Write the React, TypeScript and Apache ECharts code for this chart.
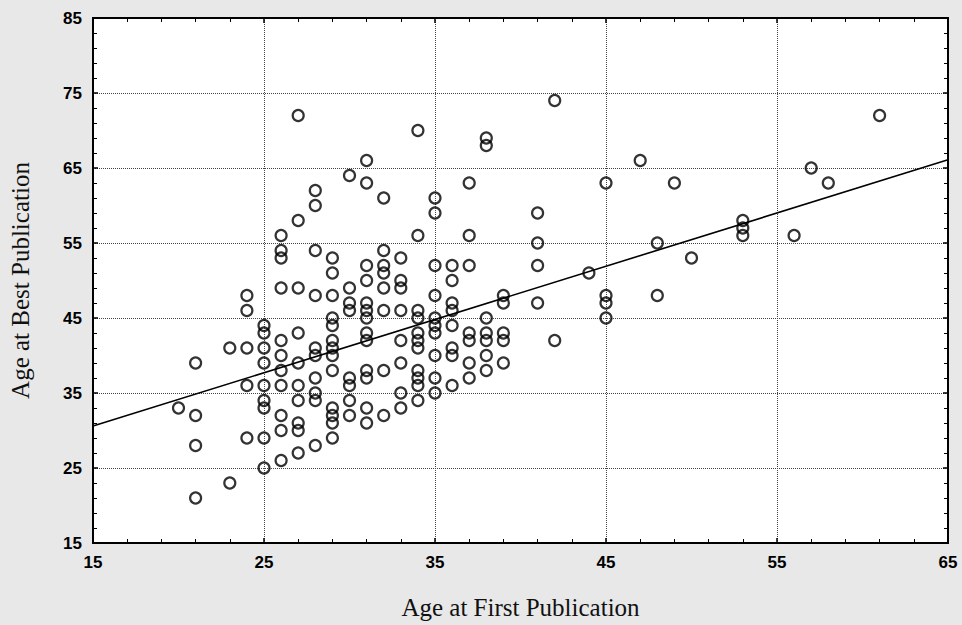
import React, { useEffect, useRef } from "react";
import * as echarts from "echarts";

// Age at first publication (x) and the ages at best publication observed for each (y)
const firstAges = [20, 21, 23, 24, 25, 26, 27, 28, 29, 30, 31, 32, 33, 34, 35, 36, 37, 38, 39, 41, 42, 44, 45, 47, 48, 49, 50, 53, 56, 57, 58, 61];
const bestAgesByFirst = [
  [33],
  [39, 32, 28, 21],
  [41, 23],
  [48, 46, 41, 36, 29],
  [44, 43, 41, 39, 36, 34, 33, 29, 25],
  [56, 54, 53, 49, 42, 40, 38, 36, 32, 30, 26],
  [72, 58, 49, 43, 39, 36, 34, 31, 30, 27],
  [62, 60, 54, 48, 41, 40, 37, 35, 34, 28],
  [53, 51, 48, 45, 44, 42, 41, 40, 38, 33, 32, 31, 29],
  [64, 49, 47, 46, 37, 36, 34, 32],
  [66, 63, 52, 50, 47, 46, 45, 43, 42, 38, 37, 33, 31],
  [61, 54, 52, 51, 49, 46, 38, 32],
  [53, 50, 49, 46, 42, 39, 35, 33],
  [70, 56, 46, 45, 43, 42, 41, 38, 37, 36, 34],
  [61, 59, 52, 48, 45, 44, 43, 40, 37, 35],
  [52, 50, 47, 46, 44, 41, 40, 36],
  [63, 56, 52, 43, 42, 39, 37],
  [69, 68, 45, 43, 42, 40, 38],
  [48, 47, 43, 42, 39],
  [59, 55, 52, 47],
  [74, 42],
  [51],
  [63, 48, 47, 45],
  [66],
  [55, 48],
  [63],
  [53],
  [58, 57, 56],
  [56],
  [65],
  [63],
  [72],
];
// Fitted line endpoints
const trendX = [15, 65];
const trendY = [30.6, 66.1];

const xTicks = { min: 15, max: 65, interval: 10 };
const yTicks = { min: 15, max: 85, interval: 10 };

export default function App() {
  const ref = useRef<HTMLDivElement>(null);

  useEffect(() => {
    if (!ref.current) return;
    const chart = echarts.init(ref.current, undefined, { renderer: "svg" });

    const points: number[][] = [];
    firstAges.forEach((x, i) => {
      bestAgesByFirst[i].forEach((y) => points.push([x, y]));
    });
    const trend = trendX.map((x, i) => [x, trendY[i]]);

    const labelFont = {
      fontFamily: "'Liberation Sans', Arial, sans-serif",
      fontWeight: "bold" as const,
      fontSize: 17,
      color: "#000",
    };
    const nameFont = {
      fontFamily: "'Liberation Serif', 'DejaVu Serif', serif",
      fontSize: 25,
      color: "#111",
    };

    const baseAxis = {
      type: "value" as const,
      axisLine: { show: true, lineStyle: { color: "#000", width: 2 } },
      axisTick: { show: true, inside: true, length: 5, lineStyle: { color: "#000", width: 1.5 } },
      minorTick: { show: true, splitNumber: 5, length: 4, lineStyle: { color: "#000", width: 1 } },
    };

    chart.setOption({
      animation: false,
      backgroundColor: "#e8e8e8",
      grid: {
        left: 93,
        right: 14,
        top: 18,
        bottom: 77,
        show: true,
        backgroundColor: "#ffffff",
        borderColor: "#000",
        borderWidth: 2,
      },
      xAxis: [
        {
          ...baseAxis,
          position: "bottom",
          ...xTicks,
          name: "Age at First Publication",
          nameLocation: "middle",
          nameGap: 52,
          nameTextStyle: nameFont,
          axisLabel: { ...labelFont, margin: 11 },
          splitLine: { show: true, lineStyle: { type: "dotted", color: "#444", width: 1 } },
        },
        {
          ...baseAxis,
          position: "top",
          ...xTicks,
          axisLabel: { show: false },
          splitLine: { show: false },
        },
      ],
      yAxis: [
        {
          ...baseAxis,
          position: "left",
          ...yTicks,
          name: "Age at Best Publication",
          nameLocation: "middle",
          nameGap: 60,
          nameRotate: 90,
          nameTextStyle: nameFont,
          axisLabel: { ...labelFont, margin: 11 },
          splitLine: { show: true, lineStyle: { type: "dotted", color: "#444", width: 1 } },
        },
        {
          ...baseAxis,
          position: "right",
          ...yTicks,
          axisLabel: { show: false },
          splitLine: { show: false },
        },
      ],
      series: [
        {
          type: "scatter",
          data: points,
          symbol: "circle",
          symbolSize: 11,
          itemStyle: { color: "transparent", borderColor: "#000", borderWidth: 2.2 },
          emphasis: { disabled: true },
          z: 3,
        },
        {
          type: "line",
          data: trend,
          showSymbol: false,
          symbol: "none",
          lineStyle: { color: "#000", width: 1.6 },
          z: 4,
        },
      ],
    });

    return () => chart.dispose();
  }, []);

  return <div ref={ref} style={{ width: 962, height: 625, position: "absolute", left: 0, top: 0 }} />;
}
